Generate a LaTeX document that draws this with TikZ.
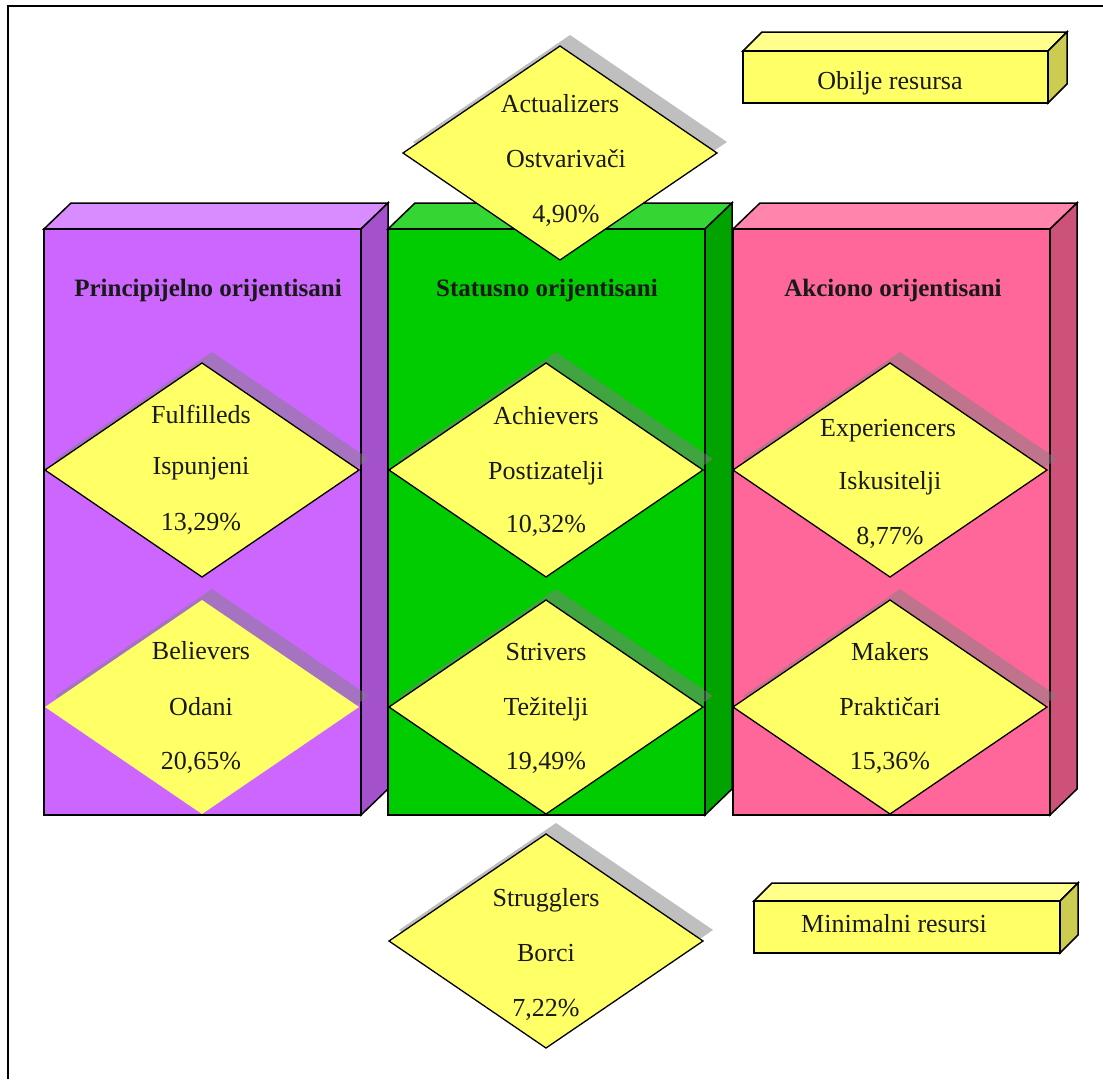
\documentclass[tikz,border=0pt]{standalone}
\usepackage{fontspec}
\setmainfont{Liberation Serif}
\definecolor{pfront}{RGB}{204,102,255}
\definecolor{ptop}{RGB}{216,140,255}
\definecolor{pside}{RGB}{163,82,204}
\definecolor{gfront}{RGB}{0,204,0}
\definecolor{gtop}{RGB}{51,214,51}
\definecolor{gside}{RGB}{0,163,0}
\definecolor{kfront}{RGB}{255,102,153}
\definecolor{ktop}{RGB}{255,133,173}
\definecolor{kside}{RGB}{204,82,122}
\definecolor{dyellow}{RGB}{255,255,102}
\definecolor{ytop}{RGB}{255,255,140}
\definecolor{yside}{RGB}{204,204,82}
\definecolor{textcol}{RGB}{25,25,25}
\tikzset{
  dshadow/.style={fill=gray, fill opacity=0.5},
  dline/.style={draw=black, line width=1.3pt, line join=miter},
  edgeline/.style={draw=black, line width=1.5pt, line join=miter},
  lbl/.style={anchor=base, inner sep=0pt, text=textcol, font=\fontsize{26}{30}\selectfont},
  ttl/.style={anchor=base, inner sep=0pt, text=textcol, font=\bfseries\fontsize{25}{30}\selectfont},
}
% diamond: centre x, centre y, extra options
\newcommand\rhomb[3]{%
  \fill[dshadow] (#1+10,#2-118) -- (#1+167,#2-11) -- (#1+10,#2+96) -- (#1-147,#2-11) -- cycle;
  \path[fill=dyellow,#3] (#1,#2-107) -- (#1+157,#2) -- (#1,#2+107) -- (#1-157,#2) -- cycle;
}
% column: left x, front, top, side colours
\newcommand\mycol[4]{%
  \path[edgeline, fill=#3] (#1,229) -- (#1+27,203) -- (#1+344,203) -- (#1+317,229) -- cycle;
  \path[edgeline, fill=#4] (#1+317,229) -- (#1+344,203) -- (#1+344,789) -- (#1+317,815) -- cycle;
  \path[edgeline, fill=#2] (#1,229) rectangle (#1+317,815);
}
% 3D box: x1 y1 x2 y2 depth
\newcommand\ybox[5]{%
  \path[edgeline, fill=ytop] (#1,#2) -- (#1+#5,#2-#5) -- (#3+#5,#2-#5) -- (#3,#2) -- cycle;
  \path[edgeline, fill=yside] (#3,#2) -- (#3+#5,#2-#5) -- (#3+#5,#4-#5) -- (#3,#4) -- cycle;
  \path[edgeline, fill=dyellow] (#1,#2) rectangle (#3,#4);
}
\begin{document}
\begin{tikzpicture}[x=1pt,y=-1pt]
\useasboundingbox (0,0) rectangle (1103,1079);
\fill[white] (0,0) rectangle (1103,1079);
\draw[line width=1.5pt] (8,1079) -- (8,6) -- (1103,6);

% columns
\mycol{44}{pfront}{ptop}{pside}
\mycol{388}{gfront}{gtop}{gside}
\mycol{733}{kfront}{ktop}{kside}

% titles
\node[ttl] (t1) at (208,296) {Principijelno orijentisani};
\node[ttl] (t2) at (547,296) {Statusno orijentisani};
\node[ttl] (t3) at (893,296) {Akciono orijentisani};

% boxes
\ybox{743}{51}{1048}{103}{19}
\ybox{754}{901}{1060}{953}{18}
\node[lbl] (b1) at (890,89) {Obilje resursa};
\node[lbl] (b2) at (894,932) {Minimalni resursi};

% diamonds
\rhomb{560}{153}{dline}
\rhomb{202}{470}{dline}
\rhomb{546}{470}{dline}
\rhomb{890}{470}{dline}
\rhomb{202}{707}{}
\rhomb{546}{707}{dline}
\rhomb{890}{707}{dline}
\rhomb{546}{941}{dline}

% diamond texts
\node[lbl] (a1) at (560,112) {Actualizers};
\node[lbl] (a2) at (566,167) {Ostvarivači};
\node[lbl] (a3) at (566,222) {4,90\%};

\node[lbl] (f1) at (201,423) {Fulfilleds};
\node[lbl] (f2) at (201,474) {Ispunjeni};
\node[lbl] (f3) at (201,530) {13,29\%};

\node[lbl] (c1) at (546,424) {Achievers};
\node[lbl] (c2) at (546,479) {Postizatelji};
\node[lbl] (c3) at (546,532) {10,32\%};

\node[lbl] (e1) at (888,436) {Experiencers};
\node[lbl] (e2) at (890,489) {Iskusitelji};
\node[lbl] (e3) at (890,544) {8,77\%};

\node[lbl] (v1) at (201,659) {Believers};
\node[lbl] (v2) at (201,715) {Odani};
\node[lbl] (v3) at (201,769) {20,65\%};

\node[lbl] (s1) at (546,660) {Strivers};
\node[lbl] (s2) at (546,715) {Težitelji};
\node[lbl] (s3) at (546,769) {19,49\%};

\node[lbl] (m1) at (890,660) {Makers};
\node[lbl] (m2) at (890,715) {Praktičari};
\node[lbl] (m3) at (890,769) {15,36\%};

\node[lbl] (g1) at (546,906) {Strugglers};
\node[lbl] (g2) at (546,961) {Borci};
\node[lbl] (g3) at (546,1016) {7,22\%};
\end{tikzpicture}
\end{document}
